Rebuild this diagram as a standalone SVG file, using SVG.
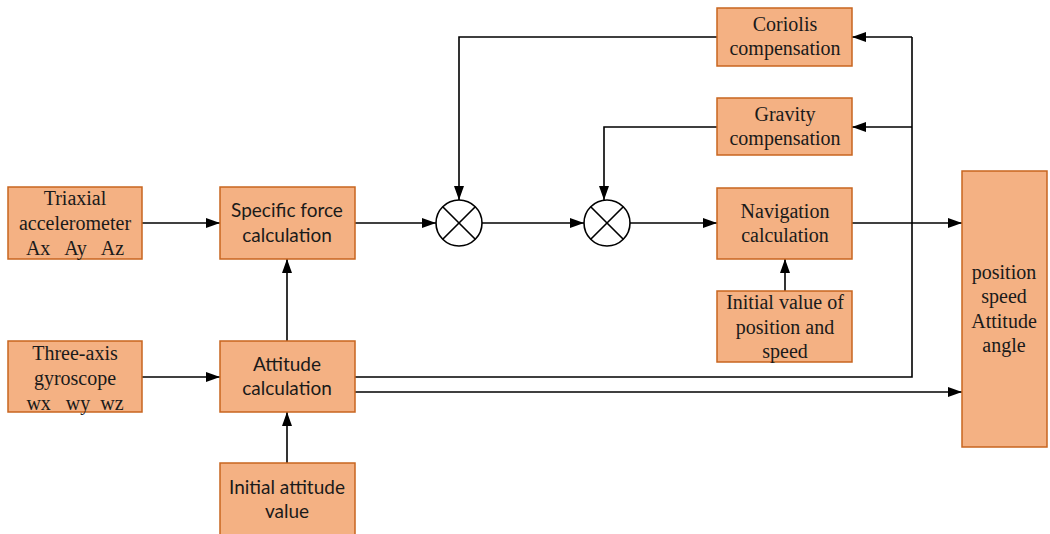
<svg xmlns="http://www.w3.org/2000/svg" width="1050" height="534" viewBox="0 0 1050 534">
<defs>
<marker id="ah" markerWidth="14" markerHeight="10" refX="14" refY="5" orient="auto" markerUnits="userSpaceOnUse">
<path d="M0,0 L14,5 L0,10 Z" fill="#000"/>
</marker>
<style>
.box{fill:#F4B183;stroke:#C8651F;stroke-width:1.5}
.s{font-family:"Liberation Serif","Times New Roman",serif;font-size:20px;fill:#1a1a1a;text-anchor:middle}
.c{font-family:Lato,"Open Sans","Liberation Sans",sans-serif;font-size:19px;fill:#1a1a1a;text-anchor:middle}
.ln{fill:none;stroke:#000;stroke-width:1.6}
.ar{fill:none;stroke:#000;stroke-width:1.6;marker-end:url(#ah)}
.mul{fill:#fff;stroke:#000;stroke-width:1.6}
</style>
</defs>
<rect width="1050" height="534" fill="#fff"/>
<g id="connectors">
<path class="ar" d="M142,223 H220"/>
<path class="ar" d="M142,377 H220"/>
<path class="ar" d="M287,341 V259"/>
<path class="ar" d="M287,463 V412"/>
<path class="ar" d="M355,223 H436"/>
<path class="ar" d="M482,223 H584"/>
<path class="ar" d="M630,223 H717"/>
<path class="ar" d="M852,223 H962"/>
<path class="ar" d="M785,291 V259"/>
<path class="ln" d="M355,377 H912 V37"/>
<path class="ar" d="M912,37 H852"/>
<path class="ar" d="M912,127 H852"/>
<path class="ar" d="M355,392 H962"/>
<path class="ar" d="M717,37 H459 V200"/>
<path class="ar" d="M717,127 H604 V200"/>
</g>
<g id="mul1"><circle class="mul" cx="459" cy="223" r="23"/><path class="ln" d="M442.7,206.7 L475.3,239.3 M475.3,206.7 L442.7,239.3"/></g>
<g id="mul2"><circle class="mul" cx="607" cy="223" r="23"/><path class="ln" d="M590.7,206.7 L623.3,239.3 M623.3,206.7 L590.7,239.3"/></g>
<g id="accel"><rect class="box" x="8" y="187" width="134" height="72"/>
<text class="s" x="75" y="205">Triaxial</text><text class="s" x="75" y="230">accelerometer</text><text class="s" x="75" y="255" xml:space="preserve">Ax   Ay   Az</text></g>
<g id="gyro"><rect class="box" x="8" y="341" width="134" height="71"/>
<text class="s" x="75" y="360">Three-axis</text><text class="s" x="75" y="385">gyroscope</text><text class="s" x="75" y="410" xml:space="preserve">wx   wy  wz</text></g>
<g id="sforce"><rect class="box" x="220" y="187" width="135" height="72"/>
<text class="c" x="287" y="217">Specific force</text><text class="c" x="287" y="242">calculation</text></g>
<g id="attitude"><rect class="box" x="220" y="341" width="135" height="71"/>
<text class="c" x="287" y="371">Attitude</text><text class="c" x="287" y="395">calculation</text></g>
<g id="initatt"><rect class="box" x="220" y="463" width="135" height="80"/>
<text class="c" x="287" y="494">Initial attitude</text><text class="c" x="287" y="518">value</text></g>
<g id="coriolis"><rect class="box" x="717" y="8" width="135" height="58"/>
<text class="s" x="785" y="31">Coriolis</text><text class="s" x="785" y="55">compensation</text></g>
<g id="gravity"><rect class="box" x="717" y="98" width="135" height="57"/>
<text class="s" x="785" y="121">Gravity</text><text class="s" x="785" y="145">compensation</text></g>
<g id="nav"><rect class="box" x="717" y="188" width="135" height="71"/>
<text class="s" x="785" y="218">Navigation</text><text class="s" x="785" y="242">calculation</text></g>
<g id="initpos"><rect class="box" x="717" y="291" width="135" height="71"/>
<text class="s" x="785" y="309">Initial value of</text><text class="s" x="785" y="334">position and</text><text class="s" x="785" y="358">speed</text></g>
<g id="output"><rect class="box" x="962" y="171" width="85" height="276"/>
<text class="s" x="1004" y="279">position</text><text class="s" x="1004" y="303">speed</text><text class="s" x="1004" y="328">Attitude</text><text class="s" x="1004" y="352">angle</text></g>
</svg>
